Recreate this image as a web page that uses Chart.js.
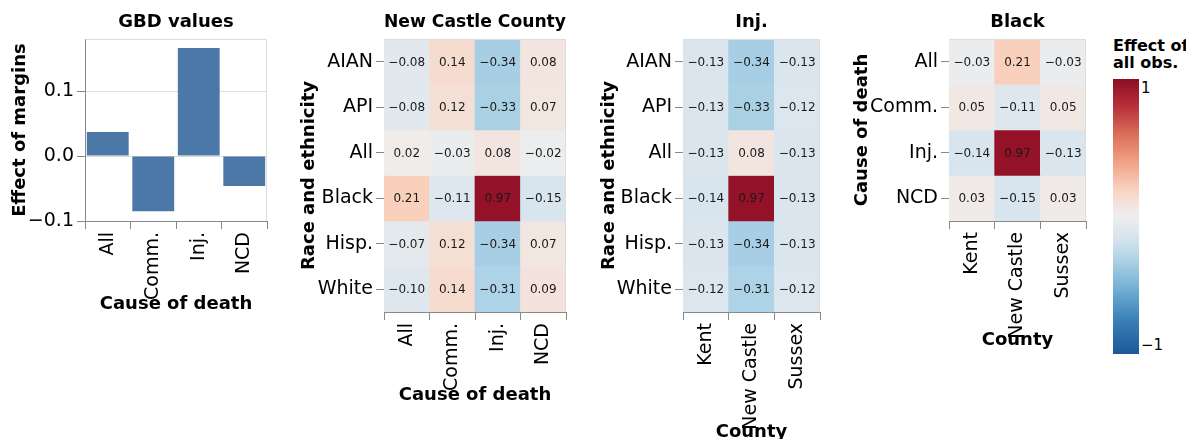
<!DOCTYPE html>
<html><head><meta charset="utf-8">
<script src="https://cdn.jsdelivr.net/npm/chart.js@4.4.1/dist/chart.umd.min.js"></script>
<style>
html,body{margin:0;padding:0;width:1186px;height:439px;overflow:hidden;background:#fff;}
canvas{position:absolute;top:0;}
#legendTitle{position:absolute;left:1113px;top:38px;font:bold 16px 'DejaVu Sans';line-height:16.7px;white-space:nowrap;color:#000;}
#legendBar{position:absolute;left:1113px;top:79px;width:26px;height:275px;}
.legLab{position:absolute;left:1141px;font:15px 'DejaVu Sans';color:#000;line-height:15px;}
</style></head><body>
<canvas id="c1" width="280" height="439" style="left:0px"></canvas>
<canvas id="c2" width="290" height="439" style="left:290px"></canvas>
<canvas id="c3" width="245" height="460" style="left:590px"></canvas>
<canvas id="c4" width="260" height="439" style="left:840px"></canvas>
<div id="legendTitle">Effect of<br>all obs.</div>
<div id="legendBar"></div>
<div class="legLab" id="legMax" style="top:81px"></div>
<div class="legLab" id="legMin" style="top:338px"></div>
<script>
// ---- data ----
const causes = ['All', 'Comm.', 'Inj.', 'NCD'];
const races = ['AIAN', 'API', 'All', 'Black', 'Hisp.', 'White'];
const counties = ['Kent', 'New Castle', 'Sussex'];
const gbdValues = [0.037, -0.085, 0.166, -0.046];
const gbdTicks = [-0.1, 0.0, 0.1];
// New Castle County: one array per cause, values over races
const ncAll  = [-0.08, -0.08,  0.02,  0.21, -0.07, -0.10];
const ncComm = [ 0.14,  0.12, -0.03, -0.11,  0.12,  0.14];
const ncInj  = [-0.34, -0.33,  0.08,  0.97, -0.34, -0.31];
const ncNCD  = [ 0.08,  0.07, -0.02, -0.15,  0.07,  0.09];
// Inj.: one array per county, values over races
const injKent      = [-0.13, -0.13, -0.13, -0.14, -0.13, -0.12];
const injNewCastle = [-0.34, -0.33,  0.08,  0.97, -0.34, -0.31];
const injSussex    = [-0.13, -0.12, -0.13, -0.13, -0.13, -0.12];
// Black: one array per county, values over causes
const blackKent      = [-0.03,  0.05, -0.14,  0.03];
const blackNewCastle = [ 0.21, -0.11,  0.97, -0.15];
const blackSussex    = [-0.03,  0.05, -0.13,  0.03];
const legendTicks = [-1, 1];

// ---- colour scale ----
const colorStops = [
  [-1.0, [28, 88, 152]], [-0.75, [58, 128, 185]], [-0.5, [122, 180, 214]],
  [-0.3, [178, 213, 231]], [-0.15, [216, 228, 238]], [0.0, [238, 238, 238]],
  [0.1, [243, 226, 218]], [0.2, [248, 210, 191]], [0.4, [239, 161, 131]],
  [0.6, [218, 109, 88]], [0.8, [184, 48, 58]], [1.0, [140, 13, 37]]
];
function colorFor(v) {
  v = Math.max(-1, Math.min(1, v));
  for (let i = 1; i < colorStops.length; i++) {
    const [v1, c1] = colorStops[i];
    const [v0, c0] = colorStops[i - 1];
    if (v <= v1) {
      const t = (v - v0) / (v1 - v0);
      const c = c0.map((x, k) => Math.round(x + (c1[k] - x) * t));
      return `rgb(${c[0]},${c[1]},${c[2]})`;
    }
  }
  return 'rgb(140,13,37)';
}
const fmt = (v, d) => v.toFixed(d).replace('-', '\u2212');

Chart.defaults.font.family = "'DejaVu Sans', sans-serif";
Chart.defaults.color = '#000';

const FONT_TICK = {size: 19};
const FONT_TITLE = {size: 18, weight: 'bold'};
const FONT_AXT = {size: 18, weight: 'bold'};

const framePlugin = {
  id: 'frame',
  afterDatasetsDraw(chart) {
    const {ctx, chartArea: a} = chart;
    ctx.save();
    ctx.strokeStyle = '#ddd'; ctx.lineWidth = 1;
    ctx.beginPath();
    ctx.moveTo(Math.round(a.left) + 0.5, Math.round(a.top) + 0.5);
    ctx.lineTo(Math.round(a.right) - 0.5, Math.round(a.top) + 0.5);
    ctx.lineTo(Math.round(a.right) - 0.5, Math.round(a.bottom));
    ctx.stroke();
    ctx.restore();
  }
};
const cellTextPlugin = {
  id: 'cellText',
  afterDatasetsDraw(chart) {
    const ctx = chart.ctx;
    ctx.save();
    ctx.font = "12px 'DejaVu Sans'";
    ctx.fillStyle = '#1a1a1a';
    ctx.textAlign = 'center'; ctx.textBaseline = 'middle';
    chart.data.datasets.forEach((ds, di) => {
      const meta = chart.getDatasetMeta(di);
      meta.data.forEach((el, i) => {
        const p = el.getCenterPoint();
        ctx.fillText(fmt(ds.values[i], 2), p.x, p.y + 1);
      });
    });
    ctx.restore();
  }
};

function commonX(labels, xH, title) {
  return {
    type: 'category', labels: labels, offset: true, z: 1,
    grid: {drawOnChartArea: false, drawTicks: true, tickLength: 8, tickColor: '#888', tickWidth: 1},
    border: {color: '#888', width: 1},
    ticks: {font: FONT_TICK, minRotation: 90, maxRotation: 90, autoSkip: false, padding: 3, color: '#000'},
    title: {display: true, text: title, font: FONT_AXT, color: '#000', padding: {top: 0, bottom: 0}},
    afterFit(s) { s.height = xH; }
  };
}
function baseOptions(g, title) {
  return {
    responsive: false, animation: false, devicePixelRatio: 1,
    layout: {padding: {left: 0, top: 0, right: g.padR, bottom: g.padB}},
    plugins: {
      legend: {display: false}, tooltip: {enabled: false},
      title: {display: true, text: title, fullSize: false, font: FONT_TITLE, color: '#000',
              padding: {top: 11.2, bottom: 6.2}}
    }
  };
}

// ---- panel 1: bar chart ----
(function () {
  const g = {padR: 13, padB: 123.6, yW: 85, xH: 94.4, yTitlePad: 9.2};
  const opts = baseOptions(g, 'GBD values');
  opts.scales = {
    x: commonX(causes, g.xH, 'Cause of death'),
    y: {
      type: 'linear', min: -0.1, max: 0.18, z: 0,
      afterBuildTicks(s) { s.ticks = gbdTicks.map(v => ({value: v})); },
      grid: {color: '#ddd', drawTicks: true, tickLength: 8, tickColor: '#888'},
      border: {color: '#888', width: 1},
      ticks: {font: FONT_TICK, padding: 3, color: '#000', callback: v => fmt(v, 1)},
      title: {display: true, text: 'Effect of margins', font: FONT_AXT, color: '#000', padding: {top: g.yTitlePad, bottom: 0}},
      afterFit(s) { s.width = g.yW; }
    }
  };
  new Chart(document.getElementById('c1'), {
    type: 'bar',
    data: {labels: causes, datasets: [{data: gbdValues, backgroundColor: '#4c78a8', borderWidth: 0,
      barPercentage: 0.92, categoryPercentage: 1}]},
    options: opts,
    plugins: [framePlugin]
  });
})();

// ---- heatmaps ----
function heatmap(id, g, title, colLabels, rowLabels, cols, xTitle, yTitle) {
  const nR = rowLabels.length;
  const datasets = rowLabels.map((rl, r) => ({
    label: rl,
    data: colLabels.map(() => [nR - 1 - r, nR - r]),
    values: cols.map(c => c[r]),
    backgroundColor: cols.map(c => colorFor(c[r])),
    borderWidth: 0, barPercentage: 1, categoryPercentage: 1, grouped: false
  }));
  const opts = baseOptions(g, title);
  opts.scales = {
    x: commonX(colLabels, g.xH, xTitle),
    y: {
      type: 'linear', min: 0, max: nR, z: 1,
      afterBuildTicks(s) { s.ticks = rowLabels.map((_, i) => ({value: nR - 1 - i + 0.5})); },
      grid: {drawOnChartArea: false, drawTicks: true, tickLength: 8, tickColor: '#888'},
      border: {color: '#888', width: 1},
      ticks: {font: FONT_TICK, padding: 3, color: '#000',
              callback: v => rowLabels[nR - 1 - Math.floor(v)]},
      title: {display: true, text: yTitle, font: FONT_AXT, color: '#000', padding: {top: g.yTitlePad, bottom: 0}},
      afterFit(s) { s.width = g.yW; }
    }
  };
  new Chart(document.getElementById(id), {
    type: 'bar',
    data: {labels: colLabels, datasets: datasets},
    options: opts,
    plugins: [cellTextPlugin, framePlugin]
  });
}

heatmap('c2', {padR: 14, padB: 33.2, yW: 94, xH: 93.8, yTitlePad: 8.2}, 'New Castle County',
  causes, races, [ncAll, ncComm, ncInj, ncNCD], 'Cause of death', 'Race and ethnicity');
heatmap('c3', {padR: 15, padB: 17.2, yW: 93, xH: 130.8, yTitlePad: 8.2}, 'Inj.',
  counties, races, [injKent, injNewCastle, injSussex], 'County', 'Race and ethnicity');
heatmap('c4', {padR: 14, padB: 88.2, yW: 109, xH: 129.8, yTitlePad: 11.2}, 'Black',
  counties, causes, [blackKent, blackNewCastle, blackSussex], 'County', 'Cause of death');

// ---- colour legend ----
(function () {
  const lo = legendTicks[0], hi = legendTicks[1];
  const stops = colorStops.map(([v]) => `${colorFor(v)} ${((v - lo) / (hi - lo) * 100).toFixed(1)}%`);
  document.getElementById('legendBar').style.background = `linear-gradient(to top, ${stops.join(', ')})`;
  document.getElementById('legMax').textContent = fmt(hi, 0);
  document.getElementById('legMin').textContent = fmt(lo, 0);
})();
</script>
</body></html>
